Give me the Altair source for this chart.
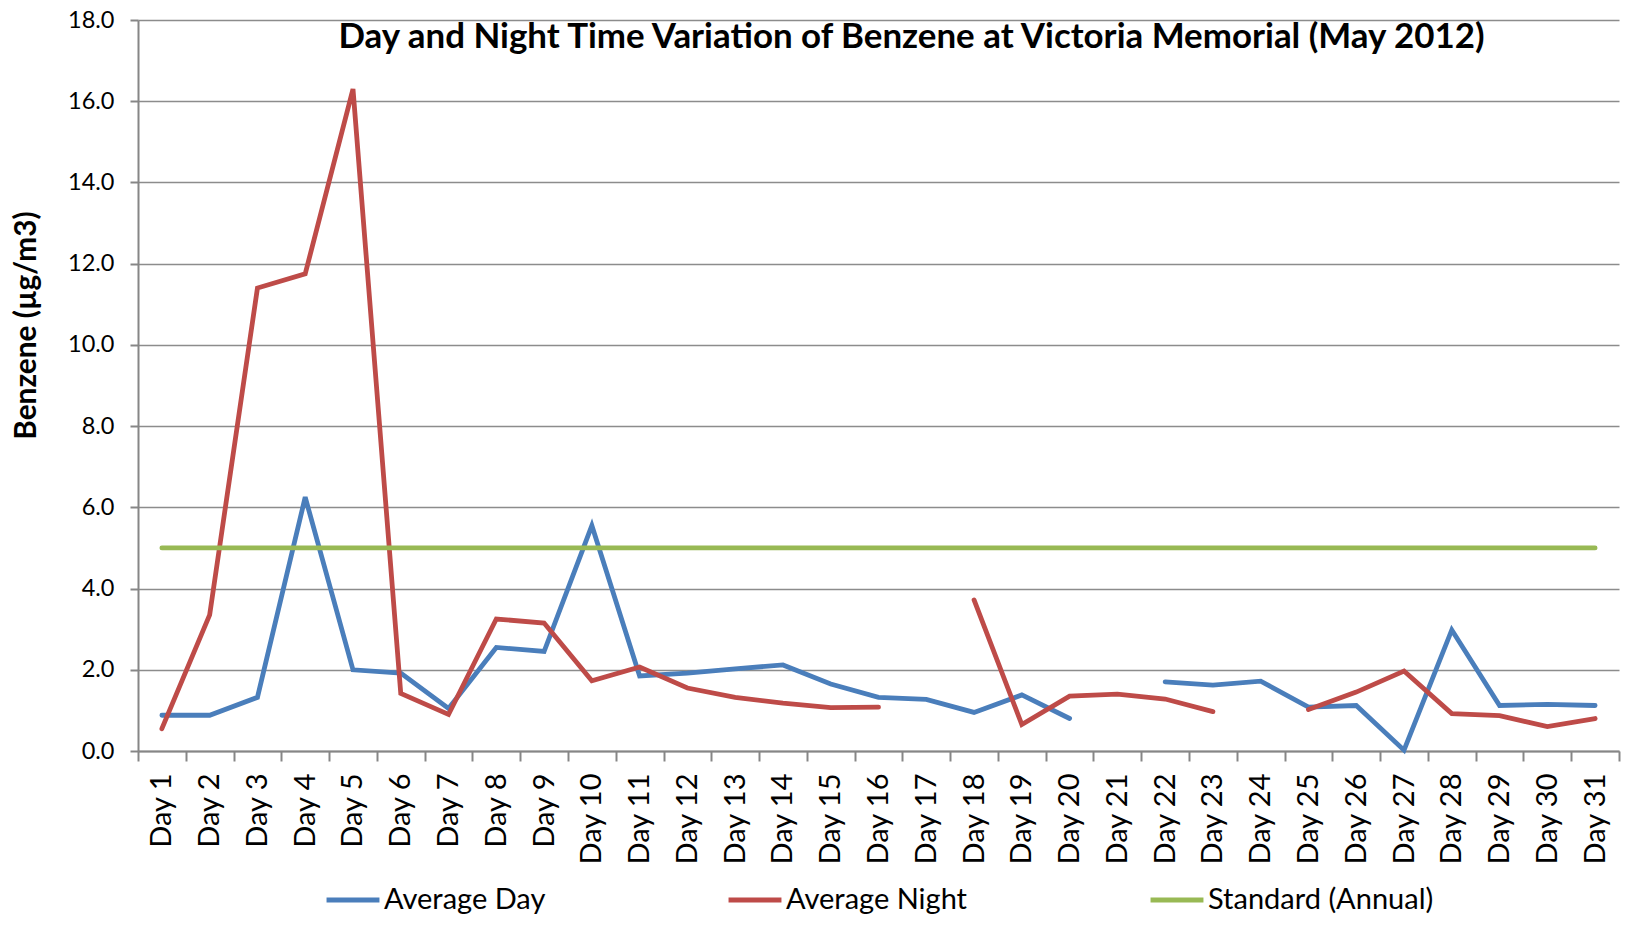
import altair as alt
import pandas as pd
import numpy as np

days = [f"Day {i}" for i in range(1, 32)]

avg_day = [0.88, 0.88, 1.32, 6.25, 2.0, 1.92, 1.05, 2.55, 2.45, 5.55,
           1.85, 1.92, 2.02, 2.12, 1.65, 1.32, 1.27, 0.95, 1.38, 0.8,
           None, 1.7, 1.62, 1.72, 1.08, 1.12, 0.02, 2.98, 1.12, 1.15, 1.12]

avg_night = [0.55, 3.35, 11.4, 11.75, 16.3, 1.42, 0.9, 3.25, 3.15, 1.73,
             2.07, 1.55, 1.32, 1.18, 1.07, 1.08, None, 3.72, 0.65, 1.35,
             1.4, 1.28, 0.97, None, 1.02, 1.45, 1.97, 0.92, 0.87, 0.6, 0.8]

standard = [5.0] * 31

series_names = ["Average Day", "Average Night", "Standard (Annual)"]
series_colors = ["#4A7EBB", "#BE4B48", "#98B954"]

rows = []
for name, vals in zip(series_names, [avg_day, avg_night, standard]):
    for d, v in zip(days, vals):
        rows.append({"day": d, "series": name, "value": (np.nan if v is None else v)})
df = pd.DataFrame(rows)

FONT = "Lato"

chart = alt.Chart(df).mark_line(strokeWidth=4.8, strokeCap="round", strokeJoin="miter").encode(
    x=alt.X("day:N", sort=days, bandPosition=0.5,
            scale=alt.Scale(type="band", paddingInner=0, paddingOuter=0),
            axis=alt.Axis(title=None, labelAngle=-90, labelFontSize=29, labelFont=FONT,
                          labelColor="#000000", tickBand="extent", tickSize=10,
                          tickColor="#868686", tickWidth=2, domainColor="#868686",
                          domainWidth=2, labelPadding=12, grid=False)),
    y=alt.Y("value:Q", scale=alt.Scale(domain=[0, 18], nice=False),
            axis=alt.Axis(title="Benzene (µg/m3)", values=list(np.arange(0, 19, 2).astype(float)),
                          format=".1f", labelFontSize=23.5, labelFont=FONT, labelColor="#000000",
                          titleFont=FONT, titleFontSize=29.8, titleFontWeight="bold",
                          titleColor="#000000", titleX=-112, titleY=305,
                          titleBaseline="middle", titleAlign="center",
                          tickSize=8, tickColor="#868686", tickWidth=2,
                          domainColor="#868686", domainWidth=2, labelPadding=16,
                          grid=True, gridColor="#8c8c8c", gridWidth=1.6)),
    color=alt.Color("series:N", sort=series_names,
                    scale=alt.Scale(domain=series_names, range=series_colors),
                    legend=alt.Legend(title=None, orient="none", direction="horizontal",
                                      legendX=186, legendY=851,
                                      symbolType="stroke", symbolSize=2800, symbolStrokeWidth=5,
                                      labelFont=FONT, labelFontSize=29, labelColor="#000000",
                                      labelLimit=500,
                                      columnPadding=172, labelOffset=2)),
    order=alt.Order("series:N"),
).properties(
    width=1481,
    height=731,
    padding={"left": 130, "top": 12, "right": 5, "bottom": 166},
    autosize=alt.AutoSizeParams(type="none"),
    title=alt.TitleParams(
        "Day and Night Time Variation of Benzene at Victoria Memorial (May 2012)",
        font=FONT, fontSize=34.9, fontWeight="bold", color="#000000",
        anchor="middle", baseline="middle", offset=0, dx=33, dy=65,
    ),
).configure_view(stroke=None)

chart.save("out.html", embed_options={"renderer": "svg", "actions": False})
